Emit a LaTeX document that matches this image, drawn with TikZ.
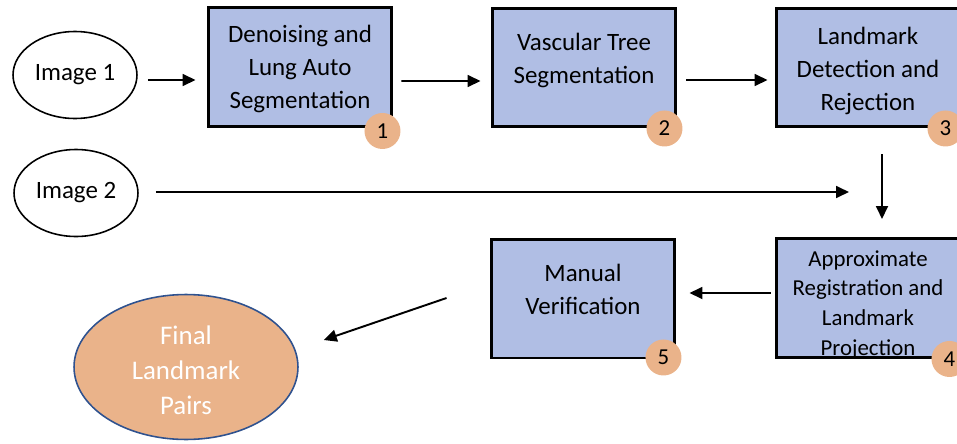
\documentclass[tikz,border=0pt]{standalone}
\usepackage{fontspec}
\setmainfont{Carlito}
\usepackage{tikz}
\usetikzlibrary{arrows.meta}
\usetikzlibrary{shapes.geometric}

\definecolor{stageblue}{RGB}{176,190,228}
\definecolor{badgetan}{RGB}{234,179,138}
\definecolor{rimblue}{RGB}{47,82,143}

\begin{document}
\begin{tikzpicture}[x=0.02cm,y=-0.02cm,
	stage/.style={draw=black,line width=1.7pt,fill=stageblue,minimum width=3.68cm,minimum height=2.38cm,inner sep=0pt,align=center,text depth=0pt,font=\fontsize{14.2}{18.8}\selectfont},
	badge/.style={circle,fill=badgetan,minimum size=0.72cm,inner sep=0pt,font=\fontsize{13}{13}\selectfont},
	source/.style={ellipse,draw=black,line width=0.9pt,minimum width=2.48cm,minimum height=1.74cm,inner sep=0pt,font=\fontsize{14.2}{17}\selectfont},
	flow/.style={line width=1.1pt,-{Triangle[length=7.4pt,width=6.8pt]}}]

	\clip (0,0) rectangle (957,443);

	% -- Inputs
	\node[source] (img1) at (75,75) {Image 1};
	\node[source] (img2) at (76,193) {Image 2};

	% -- Stages
	\node[stage,text height=47.6pt] (s1) at (300,67) {Denoising and\\Lung Auto\\Segmentation};
	\node[stage,text height=17.8pt] (s2) at (584,67.5) {Vascular Tree\\Segmentation};
	\node[stage,text height=49pt] (s3) at (868,67.5) {Landmark\\Detection and\\Rejection};
	\node[stage,text height=65.6pt,font=\fontsize{13}{17}\selectfont] (s4) at (868,298) {Approximate\\Registration and\\Landmark\\Projection};
	\node[stage,text height=17.8pt] (s5) at (583,298.5) {Manual\\Verification};

	% -- Step numbers
	\node[badge] (n1) at ([xshift=-0.22cm,yshift=-0.06cm]s1.south east) {1};
	\node[badge] (n2) at ([xshift=-0.26cm]s2.south east) {2};
	\node[badge] (n3) at ([xshift=-0.32cm]s3.south east) {3};
	\node[badge] (n4) at ([xshift=-0.24cm]s4.south east) {4};
	\node[badge] (n5) at ([xshift=-0.26cm,yshift=0.04cm]s5.south east) {5};

	% -- Output
	\node[ellipse,draw=rimblue,line width=0.9pt,fill=badgetan,minimum width=4.48cm,minimum height=2.9cm,inner sep=0pt,align=center,text=white,text height=54.2pt,text depth=0pt,font=\fontsize{15.3}{20}\selectfont] (fin) at (186,367) {Final\\Landmark\\Pairs};

	% -- Arrows
	\coordinate (img2end) at (849,192);
	\draw[flow] ([shift={(10,5)}]img1.east) -- ([shift={(-11,13)}]s1.west);
	\draw[flow] ([shift={(8,14)}]s1.east) -- ([shift={(-10,13.5)}]s2.west);
	\draw[flow] ([shift={(9,12.5)}]s2.east) -- ([shift={(-7,12.5)}]s3.west);
	\draw[flow] ([shift={(14,26)}]s3.south) -- ([shift={(14,-18)}]s4.north);
	\draw[flow] ([shift={(17,-1)}]img2.east) -- (img2end);
	\draw[flow] ([shift={(-4,-5)}]s4.west) -- ([shift={(13,-5.5)}]s5.east);
	\draw[flow] ([shift={(-43,-0.5)}]s5.west) -- ([shift={(25,-27)}]fin.east);
\end{tikzpicture}
\end{document}
